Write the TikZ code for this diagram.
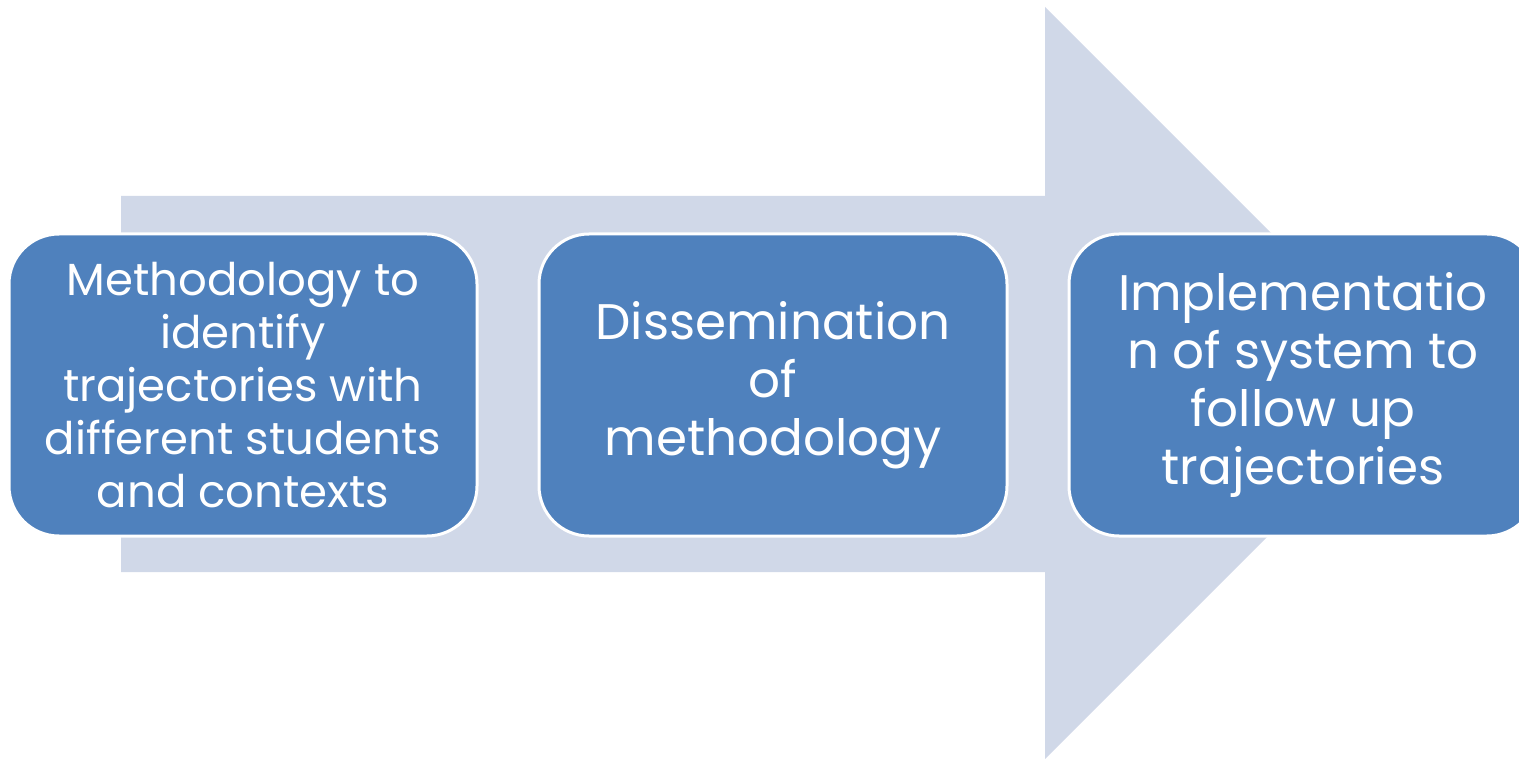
\documentclass[tikz,border=0pt]{standalone}
\usepackage{fontspec}
\setmainfont{Poppins}
\usetikzlibrary{positioning}
\definecolor{stepblue}{HTML}{4F81BD}
\definecolor{arrowgrey}{HTML}{D0D8E8}
\tikzset{
  stepbox/.style={draw=white, line width=3pt, fill=stepblue, rounded corners=50pt,
    minimum width=468pt, minimum height=302pt, text=white, align=center, inner sep=0pt},
  smalltext/.style={font=\fontsize{45}{53}\selectfont},
  bigtext/.style={font=\fontsize{50}{58}\selectfont}
}
\begin{document}
\begin{tikzpicture}[x=1pt,y=-1pt]
  \useasboundingbox (0,0) rectangle (1519,759);
  \clip (0,0) rectangle (1519,759);
  \def\ytop{196} % shaft top
  \def\ybot{572} % shaft bottom
  \coordinate (S) at (121,\ytop);
  \coordinate (H) at (1045,\ytop);
  \coordinate (T) at (1421,383);

  % big background arrow
  \fill[arrowgrey] (S) -- (H) -- (1045,7) -- (T) -- (1045,759)
       -- (1045,\ybot) -- (121,\ybot) -- cycle;

  \node[stepbox, smalltext] (method) at (243,385)
       {Methodology to\\identify\\trajectories with\\different students\\and contexts};
  \node[stepbox, bigtext, right=59pt of method] (dissem)
       {Dissemination\\of\\methodology};
  \node[stepbox, bigtext, right=59pt of dissem] (implem)
       {Implementatio\\n of system to\\follow up\\trajectories};
\end{tikzpicture}
\end{document}
